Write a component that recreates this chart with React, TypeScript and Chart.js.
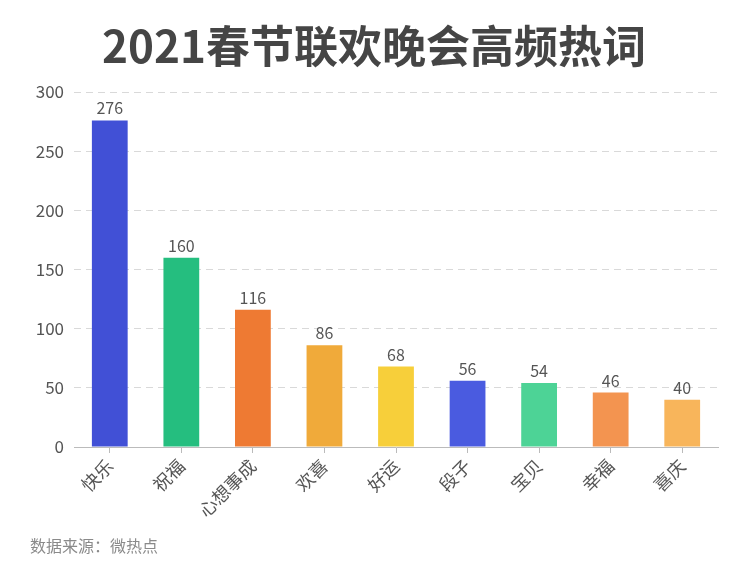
import React, { useEffect, useRef } from "react";
import { Chart, registerables } from "chart.js";

Chart.register(...registerables);

const categories = ["快乐", "祝福", "心想事成", "欢喜", "好运", "段子", "宝贝", "幸福", "喜庆"];
const values = [276, 160, 116, 86, 68, 56, 54, 46, 40];
const barColors = ["#4150d6", "#25be7f", "#ee7a33", "#f0aa3a", "#f7cf3a", "#4a5be0", "#4dd396", "#f39450", "#f8b55b"];
const titleText = "2021春节联欢晚会高频热词";
const sourceText = "数据来源：微热点";
const FONT = "'Noto Sans CJK SC', 'Noto Sans', sans-serif";

const extrasPlugin = {
  id: "extras",
  afterDatasetsDraw(chart: any) {
    const ctx = chart.ctx;
    const meta = chart.getDatasetMeta(0);
    ctx.save();
    ctx.font = `16px ${FONT}`;
    ctx.fillStyle = "#555555";
    ctx.textAlign = "center";
    ctx.textBaseline = "bottom";
    meta.data.forEach((bar: any, i: number) => {
      ctx.fillText(String(values[i]), bar.x, bar.y - 4);
    });
    ctx.restore();
  },
  afterDraw(chart: any) {
    const ctx = chart.ctx;
    ctx.save();
    ctx.font = `bold 44px ${FONT}`;
    ctx.fillStyle = "#454545";
    ctx.textAlign = "center";
    ctx.textBaseline = "middle";
    ctx.fillText(titleText, 374, 46);
    ctx.font = `16px ${FONT}`;
    ctx.fillStyle = "#8a8a8a";
    ctx.textAlign = "left";
    ctx.fillText(sourceText, 30, 546);
    ctx.restore();
  },
};

export default function App() {
  const ref = useRef<HTMLCanvasElement>(null);
  useEffect(() => {
    if (!ref.current) return;
    const chart = new Chart(ref.current, {
      type: "bar",
      data: {
        labels: categories,
        datasets: [
          {
            data: values,
            backgroundColor: barColors,
            barPercentage: 0.5,
            categoryPercentage: 1,
          },
        ],
      },
      plugins: [extrasPlugin],
      options: {
        responsive: false,
        animation: false,
        layout: { padding: { top: 92, right: 29, bottom: 40, left: 0 } },
        plugins: { legend: { display: false }, tooltip: { enabled: false } },
        scales: {
          x: {
            grid: { display: true, drawOnChartArea: false, drawTicks: true, tickLength: 6, offset: false, color: "#bbbbbb" },
            border: { display: true, color: "#bbbbbb" },
            ticks: {
              color: "#555555",
              font: { family: FONT, size: 18 },
              maxRotation: 45,
              minRotation: 45,
              padding: 2,
            },
            afterFit: (s: any) => {
              s.height = 100;
            },
          },
          y: {
            min: 0,
            max: 300,
            ticks: { stepSize: 50, color: "#555555", font: { family: FONT, size: 17 }, padding: 10 },
            grid: { color: "#d9d9d9", drawTicks: false },
            border: { display: false, dash: [7, 5] },
            afterFit: (s: any) => {
              s.width = 74;
            },
          },
        },
      },
    });
    return () => chart.destroy();
  }, []);
  return (
    <div style={{ position: "fixed", left: 0, top: 0, width: 747, height: 587, background: "#fff" }}>
      <canvas ref={ref} width={747} height={587} />
    </div>
  );
}
